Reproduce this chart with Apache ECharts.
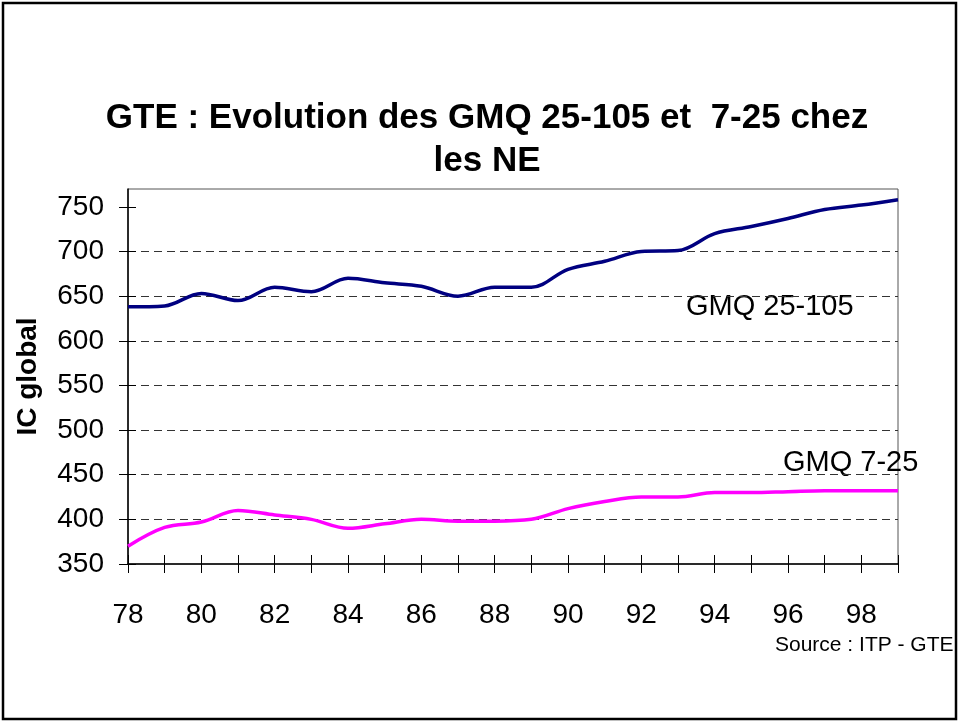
<!DOCTYPE html>
<html>
<head>
<meta charset="utf-8">
<title>GTE : Evolution des GMQ</title>
<script src="https://cdn.jsdelivr.net/npm/echarts@6/dist/echarts.min.js"></script>
<style>
  html, body { margin: 0; padding: 0; background: #fff; }
  #chart { width: 960px; height: 722px; }
</style>
</head>
<body>
<div id="chart"></div>
<script>
'use strict';

// années (axe X) et valeurs
var years = [78, 79, 80, 81, 82, 83, 84, 85, 86, 87, 88, 89, 90, 91, 92, 93, 94, 95, 96, 97, 98, 99];
var gmq25_105 = [638, 639, 653, 645, 660, 655, 670, 665, 661, 650, 660, 660, 680, 689, 700, 701, 720, 728, 737, 747, 752, 758];
var gmq7_25 = [370, 391, 397, 410, 405, 400, 390, 395, 400, 398, 398, 400, 412, 420, 425, 425, 430, 430, 431, 432, 432, 432];

// graduations
var yTicks = [350, 400, 450, 500, 550, 600, 650, 700, 750];
var xLabels = [78, 80, 82, 84, 86, 88, 90, 92, 94, 96, 98];

var FONT = '"Liberation Sans", Arial, sans-serif';

function pairs(values) {
    return years.map(function (y, i) { return [y, values[i]]; });
}

var chart = echarts.init(document.getElementById('chart'));

var option = {
    backgroundColor: '#fff',
    animation: false,
    grid: {
        left: 128,
        top: 189,
        right: 62,
        bottom: 158,
        outerBoundsMode: 'none',
        show: true,
        borderColor: '#555',
        borderWidth: 1
    },
    xAxis: [
        {
            type: 'value',
            min: 78,
            max: 99,
            interval: 1,
            position: 'bottom',
            axisLine: { show: true, lineStyle: { color: '#000', width: 1.5 } },
            axisTick: { show: true, length: 9, lineStyle: { color: '#000', width: 1 } },
            axisLabel: {
                customValues: xLabels,
                margin: 37,
                color: '#000',
                fontSize: 28,
                fontFamily: FONT
            },
            splitLine: { show: false }
        },
        {
            // petites marques qui traversent l'axe vers le haut
            type: 'value',
            min: 78,
            max: 99,
            interval: 1,
            position: 'bottom',
            axisLine: { show: false },
            axisTick: { show: true, inside: true, length: 9, lineStyle: { color: '#000', width: 1 } },
            axisLabel: { show: false },
            splitLine: { show: false }
        }
    ],
    yAxis: [
        {
            type: 'value',
            min: 350,
            max: 770,
            interval: 50,
            position: 'left',
            name: 'IC global',
            nameLocation: 'middle',
            nameRotate: 90,
            nameGap: 86,
            nameTextStyle: {
                color: '#000',
                fontSize: 28,
                fontWeight: 'bold',
                fontFamily: FONT
            },
            axisLine: { show: true, lineStyle: { color: '#000', width: 1.5 } },
            axisTick: { show: true, length: 9, customValues: yTicks, lineStyle: { color: '#000', width: 1 } },
            axisLabel: {
                customValues: yTicks,
                margin: 24,
                color: '#000',
                fontSize: 28,
                fontFamily: FONT
            },
            splitLine: {
                show: true,
                showMinLine: false,
                showMaxLine: false,
                lineStyle: { color: '#333', type: [8, 5], width: 1 }
            }
        },
        {
            type: 'value',
            min: 350,
            max: 770,
            interval: 50,
            position: 'left',
            axisLine: { show: false },
            axisTick: { show: true, inside: true, length: 8, customValues: yTicks, lineStyle: { color: '#000', width: 1 } },
            axisLabel: { show: false },
            splitLine: { show: false }
        }
    ],
    series: [
        {
            name: 'GMQ 25-105',
            type: 'line',
            smooth: 0.35,
            symbol: 'none',
            lineStyle: { color: '#000080', width: 3.5 },
            data: pairs(gmq25_105)
        },
        {
            name: 'GMQ 7-25',
            type: 'line',
            smooth: 0.35,
            symbol: 'none',
            lineStyle: { color: '#ff00ff', width: 3.5 },
            data: pairs(gmq7_25)
        }
    ],
    graphic: [
        {
            type: 'rect',
            shape: { x: 3, y: 3, width: 953, height: 716 },
            style: { fill: null, stroke: '#000', lineWidth: 2.5 },
            silent: true
        },
        {
            type: 'text',
            x: 487, y: 118,
            style: {
                text: 'GTE : Evolution des GMQ 25-105 et  7-25 chez',
                fontSize: 35, fontWeight: 'bold', fontFamily: FONT,
                fill: '#000', align: 'center', verticalAlign: 'middle'
            }
        },
        {
            type: 'text',
            x: 487, y: 161,
            style: {
                text: 'les NE',
                fontSize: 35, fontWeight: 'bold', fontFamily: FONT,
                fill: '#000', align: 'center', verticalAlign: 'middle'
            }
        },
        {
            type: 'text',
            x: 686, y: 307,
            style: {
                text: 'GMQ 25-105', fontSize: 29, fontFamily: FONT,
                fill: '#000', align: 'left', verticalAlign: 'middle'
            }
        },
        {
            type: 'text',
            x: 783, y: 463,
            style: {
                text: 'GMQ 7-25', fontSize: 29, fontFamily: FONT,
                fill: '#000', align: 'left', verticalAlign: 'middle'
            }
        },
        {
            type: 'text',
            x: 775, y: 645,
            style: {
                text: 'Source : ITP - GTE', fontSize: 21, fontFamily: FONT,
                fill: '#000', align: 'left', verticalAlign: 'middle'
            }
        }
    ]
};

chart.setOption(option);
</script>
</body>
</html>
